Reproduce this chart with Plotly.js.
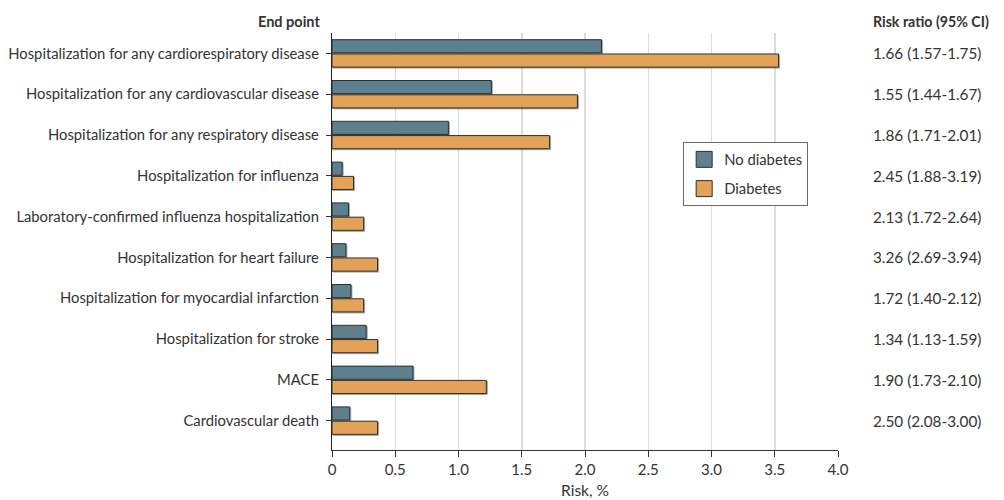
<!DOCTYPE html>
<html>
<head>
<meta charset="utf-8">
<script src="https://cdn.plot.ly/plotly-3.0.1.min.js"></script>
<style>
  html, body { margin: 0; padding: 0; background: #fff; }
  #chart { width: 1004px; height: 500px; }
  /* soft offset shadow under each bar */
  .trace.bars .point path { filter: drop-shadow(1.5px 1.5px 0.6px rgba(0,0,0,0.35)); }
</style>
</head>
<body>
<div id="chart"></div>
<script>
// End points, top to bottom
const endPoints = [
  "Hospitalization for any cardiorespiratory disease",
  "Hospitalization for any cardiovascular disease",
  "Hospitalization for any respiratory disease",
  "Hospitalization for influenza",
  "Laboratory-confirmed influenza hospitalization",
  "Hospitalization for heart failure",
  "Hospitalization for myocardial infarction",
  "Hospitalization for stroke",
  "MACE",
  "Cardiovascular death"
];

// Risk, % by group
const riskNoDiabetes = [2.13, 1.26, 0.92, 0.08, 0.13, 0.11, 0.15, 0.27, 0.64, 0.14];
const riskDiabetes   = [3.53, 1.94, 1.72, 0.17, 0.25, 0.36, 0.25, 0.36, 1.22, 0.36];

// Risk ratio (95% CI) per end point
const riskRatios = [
  "1.66 (1.57-1.75)",
  "1.55 (1.44-1.67)",
  "1.86 (1.71-2.01)",
  "2.45 (1.88-3.19)",
  "2.13 (1.72-2.64)",
  "3.26 (2.69-3.94)",
  "1.72 (1.40-2.12)",
  "1.34 (1.13-1.59)",
  "1.90 (1.73-2.10)",
  "2.50 (2.08-3.00)"
];

// X-axis ticks
const xTickVals = [0, 0.5, 1.0, 1.5, 2.0, 2.5, 3.0, 3.5, 4.0];
const xTickText = ["0", "0.5", "1.0", "1.5", "2.0", "2.5", "3.0", "3.5", "4.0"];

const FONT = "Lato, 'Open Sans', sans-serif";
const TEXT = "#333333";

const traces = [
  {
    type: "bar",
    orientation: "h",
    name: "No diabetes",
    legendgroup: "nd",
    y: endPoints,
    x: riskNoDiabetes,
    marker: { color: "#5c808d", line: { color: "#2f2f2f", width: 1 } },
    hoverinfo: "x+y+name"
  },
  {
    type: "bar",
    orientation: "h",
    name: "Diabetes",
    legendgroup: "d",
    y: endPoints,
    x: riskDiabetes,
    marker: { color: "#e3a258", line: { color: "#2f2f2f", width: 1 } },
    hoverinfo: "x+y+name"
  }
];

const annotations = riskRatios.map((t, i) => ({
  text: t,
  xref: "paper",
  yref: "y",
  x: 1.066,
  y: endPoints[i],
  xanchor: "left",
  yanchor: "middle",
  showarrow: false,
  font: { family: FONT, size: 15.3, color: TEXT }
}));

annotations.push({
  text: "<b>End point</b>",
  xref: "paper", yref: "paper",
  x: -0.02, y: 1.0,
  xanchor: "right", yanchor: "bottom",
  yshift: 1,
  showarrow: false,
  font: { family: FONT, size: 14.5, color: TEXT }
});
annotations.push({
  text: "<b>Risk ratio (95% CI)</b>",
  xref: "paper", yref: "paper",
  x: 1.066, y: 1.0,
  xanchor: "left", yanchor: "bottom",
  yshift: 1,
  showarrow: false,
  font: { family: FONT, size: 14.2, color: TEXT }
});

const layout = {
  width: 1004,
  height: 500,
  margin: { l: 332, r: 166, t: 33, b: 50, pad: 0 },
  paper_bgcolor: "#ffffff",
  plot_bgcolor: "#ffffff",
  font: { family: FONT, size: 14.8, color: TEXT },
  barmode: "group",
  bargap: 0.3,
  bargroupgap: 0.08,
  showlegend: true,
  legend: {
    x: 0.694, y: 0.738,
    xanchor: "left", yanchor: "top",
    bgcolor: "#ffffff",
    bordercolor: "#6a6a6a",
    borderwidth: 1,
    font: { family: FONT, size: 14.8, color: TEXT },
    traceorder: "grouped",
    tracegroupgap: 7
  },
  xaxis: {
    range: [0, 4.0],
    tickvals: xTickVals,
    ticktext: xTickText,
    ticks: "outside",
    ticklen: 6,
    tickcolor: "#333",
    tickwidth: 1,
    showline: true,
    linecolor: "#333",
    linewidth: 1,
    showgrid: true,
    gridcolor: "#dcdcdc",
    gridwidth: 1.5,
    zeroline: false,
    tickfont: { family: FONT, size: 15, color: TEXT },
    title: { text: "Risk, %", font: { family: FONT, size: 15.5, color: TEXT }, standoff: 8 },
    fixedrange: true
  },
  yaxis: {
    type: "category",
    categoryorder: "array",
    categoryarray: endPoints,
    range: [9.72, -0.5],
    ticks: "outside",
    ticklen: 5,
    tickcolor: "#333",
    tickwidth: 1,
    showline: true,
    linecolor: "#222",
    linewidth: 1.3,
    showgrid: false,
    zeroline: false,
    ticksuffix: " ",
    tickfont: { family: FONT, size: 14.8, color: TEXT },
    fixedrange: true
  },
  annotations: annotations
};

Plotly.newPlot("chart", traces, layout, { displayModeBar: false, staticPlot: true }).then(gd => {
  // enlarge the square legend swatches
  gd.querySelectorAll(".legend .legendpoints path").forEach(p => {
    p.setAttribute("d", "M8,8H-8V-8H8Z");
  });
});
</script>
</body>
</html>
